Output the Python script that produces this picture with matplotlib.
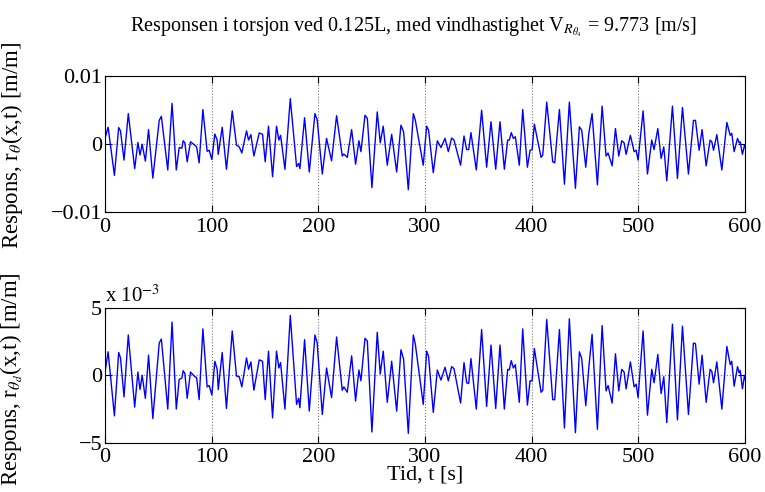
import matplotlib
matplotlib.use('Agg')
import matplotlib.pyplot as plt

plt.rcParams['font.family'] = ['Liberation Serif', 'DejaVu Serif']
plt.rcParams['mathtext.fontset'] = 'stix'

# time of the turning points [s], shared by both responses
tid = [0, 0.6, 3.1, 9, 13, 14.7, 18, 22, 28, 31, 33, 35, 38, 41, 45, 51, 53, 59, 63, 67,
       69.7, 72.2, 73.4, 75, 77.2, 80.3, 84.4, 86, 88.4, 91.9, 95.9, 97.8, 100.3, 103.1, 105.3, 106.3,
       110, 114, 119.4, 123.4, 126, 128.4, 132.8, 134.7, 136.9, 139.7, 144.7, 147.8, 150.3, 153.4,
       157.2, 160.9, 163.1, 164.7, 168.8, 173.8, 179.7, 181.6, 182.8, 187.2, 191.6, 196.9, 199,
       203.8, 207.8, 212.5, 217.2, 222.5, 224, 227.2, 231.3, 235, 238.1, 240, 243.8, 246, 250.3,
       255.3, 258.1, 260.9, 264.7, 268.8, 273.5, 277.5, 280, 284.4, 289.1, 291, 298.4, 301.6, 303.4,
       307.8, 311.6, 315, 318.8, 321.9, 325, 327.2, 333.4, 336.6, 339.1, 341, 343.1, 348.1, 353.1,
       357.8, 361.9, 366.3, 370.3, 374.4, 377.5, 379, 380.9, 382.8, 384.7, 388.4, 391.6,
       396, 398.5, 400.4, 402.5, 408.8, 410.4, 414.1, 419.7, 421.6, 426, 430.7, 435.3, 441, 444.7,
       446.9, 450.7, 453.5, 456.6, 461.6, 466, 469.7, 471.6, 475.4, 478.5, 481.6, 484.4, 486.6,
       488.5, 492.5, 496, 497.9, 499.7, 504.4, 508.5, 512.5, 514.7, 518.2, 521.3, 523.8, 526.6,
       531.9, 536.6, 541.3, 546.9, 551.6, 553.5, 556.9, 559.7, 563.5, 567.2, 568.8, 570.4, 573.5,
       578.2, 582.9, 586, 587.5, 589.7, 592.9, 594.4, 595.4, 597.5, 599.4, 600]

# response r_theta, in units of 1e-3 m/m
r_theta = [0.5, 1.1, 2.5, -4.6, 2.45, 1.96, -2.35, 4.5, -3.6, 0.25, -1.6, 0, -2.5, 2.15, -5.0, 3.5, 4.1, -3.8, 6.0, -3.8,
           -0.5, -0.6, 0.5, 0.2, -2.6, 0.35, -0.15, -0.4, -2.75, 5.1, -1.05, -0.9, -2.25, 1.5, 0.6, -1.5,
           2.5, -3.7, 4.9, -0.15, -0.4, -1.3, 1.95, 0.6, 1.4, -1.75, 1.65, 1.45, -2.6, 2.65,
           -4.8, 2.65, 0.6, 1.3, -3.7, 6.7, -3.3, -2.85, -3.6, 3.9, -4.1, 4.5, 3.6,
           -4.4, 0.85, -2.45, 4.2, -1.75, -1.45, -1.95, 2.15, -2.95, 0.5, -1.1, 4.25, 3.8, -6.4,
           4.75, 0.2, 2.65, -3.1, 1.45, -4.1, 2.8, 1.8, -6.7, 4.5, 3.5, -3.1, 2.65, 2.05,
           -4.2, 0.5, -0.5, 0.85, -1.1, 0.9, 0.6, -3.1, 1.2, -0.8, -0.8, 1.7, -3.8, 5.0,
           -3.4, 3.3, -3.7, 3.3, -3.7, 0.6, 0.6, 1.7, 0.85, 1.1, -3.1, 5.1,
           -3.4, -0.9, -0.8, 2.95, -1.95, -1.6, 6.2, -2.6, -2.75, 5.1, -5.9, 6.2, -6.5, 2.55,
           2.05, -3.4, 1.55, 4.5, -6.0, 5.6, -1.75, -1.3, -3.2, 2.3, -1.75, 0.5, 0.2,
           -1.5, 1.3, -1.1, -0.9, -2.35, 4.9, -4.4, 0.6, -0.8, 2.3, -2.1, -0.4, -5.4,
           5.6, -5.05, 5.4, -4.4, 3.5, 3.5, -0.9, 2.15, -3.2, 0.6, 0.35, -0.9, 1.4,
           -3.8, 3.2, 1.3, 1.6, -1.1, 0.85, 0.2, 0.35, -1.5, -0.15, -0.5]

# response r_theta_d, in units of 1e-3 m/m
r_theta_d = [0.2, 0.45, 1.75, -3.0, 1.7, 1.3, -1.6, 3.0, -2.35, 0.25, -1.05, 0, -1.7, 1.5, -3.2, 2.4, 2.7, -2.5, 3.95, -2.5,
             -0.3, -0.2, 0.35, 0.15, -1.7, 0.25, -0.1, -0.15, -1.8, 3.45, -0.85, -0.75, -1.45, 1.05, 0.45, -1.05,
             1.7, -2.45, 3.3, -0.05, -0.1, -0.85, 1.3, 0.45, 1.0, -1.1, 1.15, 1.05, -1.8, 1.8,
             -3.15, 1.8, 0.55, 0.95, -2.5, 4.45, -2.15, -1.7, -2.4, 2.65, -2.65, 3.0, 2.4,
             -2.9, 0.55, -1.65, 2.85, -1.1, -0.85, -1.25, 1.45, -1.9, 0.4, -0.4, 2.75, 2.55, -4.2,
             3.2, 0.1, 1.8, -2.0, 1.05, -2.65, 1.9, 1.2, -4.3, 3.0, 2.3, -2.15, 1.8, 1.4,
             -2.75, 0.4, -0.35, 0.6, -0.4, 0.65, 0.5, -2.05, 0.95, -0.55, -0.6, 1.25, -2.5, 3.4,
             -2.3, 2.25, -2.45, 2.25, -2.5, 0.45, 0.4, 1.1, 0.55, 0.8, -2.0, 3.45,
             -2.2, -0.4, -0.4, 2.0, -1.25, -1.1, 4.15, -1.8, -1.8, 3.4, -3.9, 4.2, -4.25, 1.75,
             1.25, -2.25, 0.55, 3.05, -4.0, 3.7, -1.15, -0.75, -2.05, 1.6, -1.15, 0.45, 0.25,
             -1.0, 1.0, -0.85, -0.65, -1.65, 3.3, -2.95, 0.45, -0.55, 1.55, -1.35, -0.1, -3.5,
             3.8, -3.3, 3.65, -2.9, 2.4, 2.35, -0.65, 1.5, -2.0, 0.45, 0.3, -0.55, 1.0,
             -2.5, 2.15, 0.8, 1.05, -0.8, 0.65, 0.2, 0.35, -1.0, 0.0, -0.3]

xticks = [0, 100, 200, 300, 400, 500, 600]

fig = plt.figure(figsize=(7.65, 4.92), dpi=100)
ax1 = fig.add_axes([0.137, 0.569, 0.837, 0.276])
ax2 = fig.add_axes([0.137, 0.100, 0.837, 0.274])

for ax in (ax1, ax2):
    ax.set_xlim(0, 600)
    ax.set_xticks(xticks)
    ax.grid(True, linestyle=':', color='#777777', linewidth=0.8)
    ax.tick_params(direction='in', top=True, right=True, labelsize=16, length=5)
    ax.tick_params(axis='y', pad=2)
    ax.tick_params(axis='x', pad=4)
    for s in ax.spines.values():
        s.set_linewidth(0.8)

# top: r_theta
ax1.plot(tid, r_theta, color='blue', linewidth=1)
ax1.set_ylim(-10, 10)
ax1.set_yticks([-10, 0, 10])
ax1.set_yticklabels(['\u22120.01', '0', '0.01'])
ax1.set_ylabel(r'Respons, r$_\theta$(x,t) [m/m]', fontsize=16.5)
ax1.yaxis.set_label_coords(-0.125, 0.49)

fig.text(0.54, 0.937,
         r'Responsen i torsjon ved 0.125L, med vindhastighet V$_{R_{\theta_4}}$ = 9.773 [m/s]',
         fontsize=14.5, ha='center', va='baseline')

# bottom: r_theta_d
ax2.plot(tid, r_theta_d, color='blue', linewidth=1)
ax2.set_ylim(-5, 5)
ax2.set_yticks([-5, 0, 5])
ax2.set_yticklabels(['\u22125', '0', '5'])
ax2.set_ylabel(r'Respons, r$_{\theta_d}$(x,t) [m/m]', fontsize=16.5)
ax2.yaxis.set_label_coords(-0.125, 0.47)
ax2.set_xlabel('Tid, t [s]', fontsize=16, labelpad=-1)
ax2.text(0, 1.01, r'x 10$^{-3}$', transform=ax2.transAxes, fontsize=15, va='bottom')

fig.savefig('out.png', dpi=100)
